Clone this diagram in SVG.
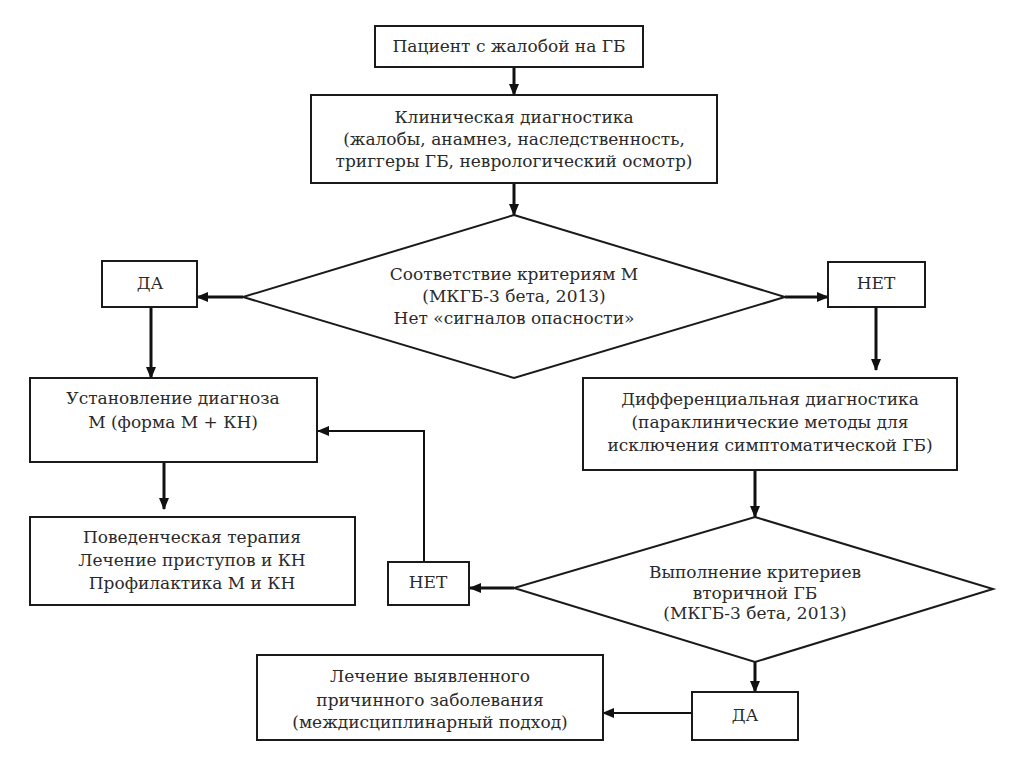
<svg xmlns="http://www.w3.org/2000/svg" width="1024" height="767" viewBox="0 0 1024 767">
<style>
.box{fill:#fff;stroke:#1a1a1a;stroke-width:2}
.dia{fill:#fff;stroke:#1a1a1a;stroke-width:2}
text{font-family:"DejaVu Serif","Liberation Serif",serif;font-size:17px;fill:#2a2a2a;text-anchor:middle;dominant-baseline:central}
.c{fill:none;stroke:#111;stroke-width:3}
.t{fill:none;stroke:#111;stroke-width:2}
</style>
<defs>
<marker id="ah" markerUnits="userSpaceOnUse" markerWidth="12" markerHeight="10" refX="11" refY="5" orient="auto">
<path d="M0,0 L12,5 L0,10 Z" fill="#111"/>
</marker>
</defs>
<rect width="1024" height="767" fill="#fff"/>
<g id="connectors">
<line class="c" x1="514" y1="67" x2="514" y2="95" marker-end="url(#ah)"/>
<line class="c" x1="514" y1="183" x2="514" y2="215" marker-end="url(#ah)"/>
<line class="c" x1="243" y1="297" x2="197" y2="297" marker-end="url(#ah)"/>
<line class="c" x1="785" y1="297" x2="828" y2="297" marker-end="url(#ah)"/>
<line class="c" x1="151" y1="307" x2="151" y2="378" marker-end="url(#ah)"/>
<line class="c" x1="876" y1="307" x2="876" y2="370" marker-end="url(#ah)"/>
<line class="c" x1="164" y1="462" x2="164" y2="509" marker-end="url(#ah)"/>
<line class="c" x1="755" y1="470" x2="755" y2="517" marker-end="url(#ah)"/>
<line class="c" x1="514" y1="588" x2="470" y2="588" marker-end="url(#ah)"/>
<polyline class="t" points="424,562 424,431 318,431" marker-end="url(#ah)"/>
<line class="c" x1="755" y1="662" x2="755" y2="692" marker-end="url(#ah)"/>
<line class="t" x1="692" y1="713" x2="603" y2="713" marker-end="url(#ah)"/>
</g>
<g id="n-patient">
<rect class="box" x="375" y="26" width="268" height="41"/>
<text x="509" y="46">Пациент с жалобой на ГБ</text>
</g>
<g id="n-clinical">
<rect class="box" x="311" y="95" width="406" height="88"/>
<text x="514" y="117">Клиническая диагностика</text>
<text x="514" y="139">(жалобы, анамнез, наследственность,</text>
<text x="514" y="161">триггеры ГБ, неврологический осмотр)</text>
</g>
<g id="n-criteria">
<polygon class="dia" points="514,215 785,297 514,378 243,297"/>
<text x="514" y="274">Соответствие критериям М</text>
<text x="514" y="296">(МКГБ-3 бета, 2013)</text>
<text x="514" y="318">Нет «сигналов опасности»</text>
</g>
<g id="n-yes1">
<rect class="box" x="102" y="261" width="95" height="46"/>
<text x="150" y="283">ДА</text>
</g>
<g id="n-no1">
<rect class="box" x="828" y="262" width="97" height="45"/>
<text x="876" y="283">НЕТ</text>
</g>
<g id="n-diagnosis">
<rect class="box" x="30" y="378" width="287" height="84"/>
<text x="173" y="398">Установление диагноза</text>
<text x="173" y="422">М (форма М + КН)</text>
</g>
<g id="n-therapy">
<rect class="box" x="30" y="517" width="325" height="88"/>
<text x="192" y="537">Поведенческая терапия</text>
<text x="192" y="560">Лечение приступов и КН</text>
<text x="192" y="583">Профилактика М и КН</text>
</g>
<g id="n-differential">
<rect class="box" x="583" y="378" width="374" height="92"/>
<text x="770" y="399">Дифференциальная диагностика</text>
<text x="770" y="422">(параклинические методы для</text>
<text x="770" y="445">исключения симптоматической ГБ)</text>
</g>
<g id="n-secondary">
<polygon class="dia" points="755,517 993,589 755,662 514,588"/>
<text x="755" y="572">Выполнение критериев</text>
<text x="755" y="593">вторичной ГБ</text>
<text x="755" y="613">(МКГБ-3 бета, 2013)</text>
</g>
<g id="n-no2">
<rect class="box" x="388" y="562" width="81" height="43"/>
<text x="428" y="582">НЕТ</text>
</g>
<g id="n-yes2">
<rect class="box" x="692" y="692" width="106" height="48"/>
<text x="745" y="715">ДА</text>
</g>
<g id="n-treatment">
<rect class="box" x="257" y="655" width="346" height="85"/>
<text x="430" y="676">Лечение выявленного</text>
<text x="430" y="700">причинного заболевания</text>
<text x="430" y="722">(междисциплинарный подход)</text>
</g>
</svg>
